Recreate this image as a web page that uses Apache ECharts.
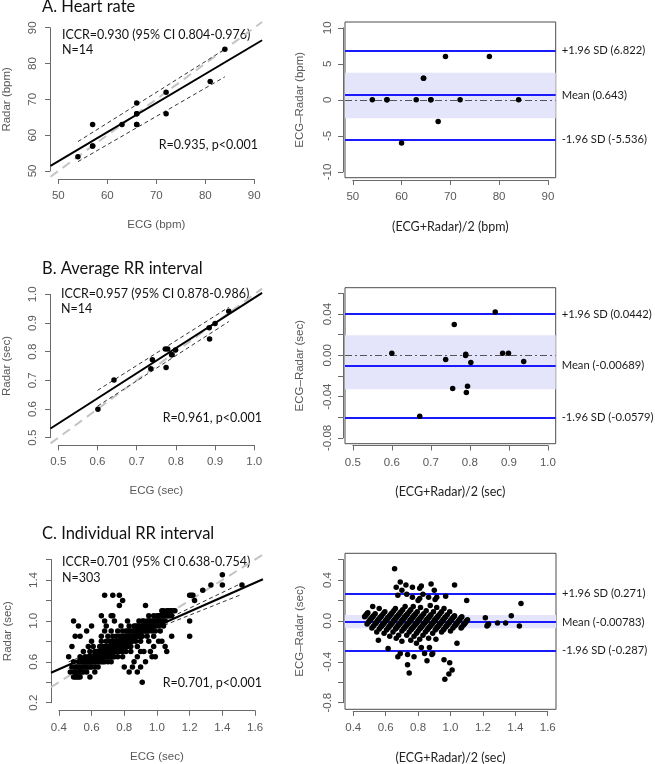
<!DOCTYPE html>
<html><head><meta charset="utf-8">
<script src="https://cdn.jsdelivr.net/npm/echarts@6/dist/echarts.min.js"></script>
<style>html,body{margin:0;padding:0;background:#fff}#c{width:655px;height:764px}</style>
</head><body><div id="c"></div>
<script>
// ---------------- DATA ----------------
const ecgA   = [54, 57, 57, 57, 63, 66, 66, 66, 66, 66, 72, 72, 81, 84];
const radarA = [54, 57, 57, 63, 63, 63, 63, 66, 66, 69, 72, 66, 75, 84];
const ecgB   = [0.601, 0.642, 0.736, 0.775, 0.740, 0.789, 0.790, 0.779, 0.773, 0.799, 0.886, 0.885, 0.900, 0.935];
const radarB = [0.599, 0.701, 0.740, 0.745, 0.772, 0.789, 0.789, 0.809, 0.809, 0.806, 0.844, 0.883, 0.898, 0.941];
const radarLevelsC = [0.40, 0.45, 0.50, 0.55, 0.60, 0.65, 0.70, 0.75, 0.80, 0.85, 0.90, 0.95, 1.00, 1.05, 1.10, 1.15, 1.20, 1.25, 1.30, 1.35, 1.45];
const ecgRowsC = [
  [0.91],
  [0.49, 0.50, 0.51, 0.52, 0.53, 0.59],
  [0.47, 0.49, 0.50, 0.51, 0.52, 0.53, 0.54, 0.55, 0.57, 0.62, 0.83, 0.88],
  [0.48, 0.50, 0.52, 0.53, 0.54, 0.55, 0.56, 0.57, 0.58, 0.59, 0.60, 0.62, 0.64, 0.80, 0.85, 0.90],
  [0.49, 0.52, 0.54, 0.55, 0.56, 0.57, 0.58, 0.59, 0.60, 0.605, 0.61, 0.62, 0.625, 0.63, 0.64, 0.65, 0.66, 0.67, 0.68, 0.70, 0.72, 0.86, 0.93],
  [0.46, 0.53, 0.56, 0.58, 0.59, 0.60, 0.61, 0.62, 0.63, 0.64, 0.65, 0.655, 0.66, 0.67, 0.68, 0.685, 0.69, 0.70, 0.71, 0.72, 0.73, 0.74, 0.76, 0.79, 0.88, 0.97, 0.99],
  [0.55, 0.59, 0.62, 0.63, 0.64, 0.65, 0.66, 0.67, 0.68, 0.69, 0.695, 0.70, 0.71, 0.715, 0.72, 0.73, 0.735, 0.74, 0.75, 0.76, 0.77, 0.79, 0.81, 0.84, 0.90, 0.92, 0.96, 1.06],
  [0.48, 0.58, 0.61, 0.65, 0.67, 0.68, 0.69, 0.70, 0.71, 0.72, 0.73, 0.74, 0.745, 0.75, 0.76, 0.765, 0.77, 0.78, 0.785, 0.79, 0.80, 0.81, 0.82, 0.84, 0.88, 0.98, 1.05],
  [0.60, 0.66, 0.69, 0.71, 0.72, 0.73, 0.74, 0.75, 0.76, 0.77, 0.775, 0.78, 0.79, 0.795, 0.80, 0.81, 0.815, 0.82, 0.83, 0.84, 0.85, 0.87, 0.90, 0.95, 1.01, 1.03],
  [0.50, 0.53, 0.66, 0.70, 0.73, 0.75, 0.77, 0.78, 0.79, 0.80, 0.81, 0.82, 0.83, 0.835, 0.84, 0.85, 0.855, 0.86, 0.865, 0.87, 0.88, 0.89, 0.90, 0.91, 0.94, 0.98, 1.09, 1.20],
  [0.57, 0.68, 0.72, 0.76, 0.79, 0.81, 0.82, 0.83, 0.84, 0.85, 0.86, 0.87, 0.875, 0.88, 0.89, 0.895, 0.90, 0.905, 0.91, 0.92, 0.93, 0.94, 0.95, 0.97, 0.99, 1.02],
  [0.52, 0.60, 0.69, 0.78, 0.83, 0.86, 0.87, 0.88, 0.89, 0.90, 0.91, 0.92, 0.925, 0.93, 0.94, 0.945, 0.95, 0.96, 0.97, 0.98, 0.99, 1.01, 1.04],
  [0.49, 0.68, 0.74, 0.82, 0.89, 0.91, 0.92, 0.94, 0.95, 0.96, 0.97, 0.98, 0.985, 0.99, 1.00, 1.005, 1.01, 1.02, 1.03, 1.04, 1.05, 1.20],
  [0.66, 0.72, 0.73, 0.95, 0.98, 1.00, 1.01, 1.02, 1.03, 1.04, 1.05, 1.06, 1.07, 1.08, 1.09],
  [1.03, 1.04, 1.06, 1.07, 1.08, 1.09, 1.10, 1.11],
  [0.77, 0.93],
  [0.79, 1.23],
  [0.68, 0.73, 0.77, 1.20, 1.21, 1.22],
  [1.28],
  [1.33, 1.40, 1.52],
  [1.40]
];

// fitted lines
const fitA  = [[48.4, 51.4], [91.6, 86.5]];
const ciUpA = [[54, 58.2], [84, 84.0]];
const ciLoA = [[54, 52.6], [84, 76.3]];
const fitB  = [[0.48, 0.532], [1.02, 1.005]];
const ciUpB = [[0.60, 0.665], [0.935, 0.955]];
const ciLoB = [[0.60, 0.610], [0.935, 0.905]];
const fitC  = [[0.352, 0.493], [1.648, 1.407]];
const ciUpC = [[0.46, 0.600], [0.80, 0.817], [1.52, 1.370]];
const ciLoC = [[0.46, 0.535], [0.80, 0.801], [1.52, 1.260]];

// Bland-Altman limits [+1.96SD, mean, -1.96SD] and shaded band [low, high]
const limitsA = [6.822, 0.643, -5.536];
const limitsB = [0.0442, -0.00689, -0.0579];
const limitsC = [0.271, -0.00783, -0.287];
const bandA = [-2.55, 3.77];
const bandB = [-0.0328, 0.0195];
const bandC = [-0.072, 0.058];

// texts
const panelTitles = ['A. Heart rate', 'B. Average RR interval', 'C. Individual RR interval'];
const statsA = ['ICCR=0.930 (95% CI 0.804-0.976)', 'N=14', 'R=0.935, p<0.001'];
const statsB = ['ICCR=0.957 (95% CI 0.878-0.986)', 'N=14', 'R=0.961, p<0.001'];
const statsC = ['ICCR=0.701 (95% CI 0.638-0.754)', 'N=303', 'R=0.701, p<0.001'];
const limitNames = ['+1.96 SD', 'Mean', '-1.96 SD'];
const xTitlesL = ['ECG (bpm)', 'ECG (sec)', 'ECG (sec)'];
const yTitlesL = ['Radar (bpm)', 'Radar (sec)', 'Radar (sec)'];
const xTitlesR = ['(ECG+Radar)/2 (bpm)', '(ECG+Radar)/2 (sec)', '(ECG+Radar)/2 (sec)'];
const yTitlesR = ['ECG\u2013Radar (bpm)', 'ECG\u2013Radar (sec)', 'ECG\u2013Radar (sec)'];

// tick labels that are printed
const xTicksA  = ['50', '60', '70', '80', '90'];
const yTicksAL = ['50', '60', '70', '80', '90'];
const yTicksAR = ['-10', '-5', '0', '5', '10'];
const xTicksB  = ['0.5', '0.6', '0.7', '0.8', '0.9', '1.0'];
const yTicksBL = ['0.5', '0.6', '0.7', '0.8', '0.9', '1.0'];
const yTicksBR = ['-0.08', '-0.04', '0.00', '0.04'];
const xTicksC  = ['0.4', '0.6', '0.8', '1.0', '1.2', '1.4', '1.6'];
const yTicksCL = ['0.2', '0.6', '1.0', '1.4'];
const yTicksCR = ['-0.8', '-0.4', '0.0', '0.4'];

// ---------------- LAYOUT ----------------
const GRAYTXT = '#595959', AXCOL = '#6a6a6a';
const TICKFONT = 'Liberation Sans';
const TXTFONT = 'Lato';
const layout = {
  AL: {L:50.5, R:262.1, T:22, B:176.7, ux:[48.4,91.6], uy:[48.4,91.6], tx:[50,90,10], ty:[50,90,10], yAx:50, xAx:179, box:false, xd:0, yd:0, xl:xTicksA, yl:yTicksAL, ym:11},
  AR: {L:345, R:555.7, T:22, B:177.7, ux:[48.4,91.6], uy:[-10.8,10.8], tx:[50,90,10], ty:[-10,10,5], yAx:343, xAx:180, box:true, xd:0, yd:0, xl:xTicksA, yl:yTicksAR, ym:9},
  BL: {L:50.5, R:262.1, T:288.6, B:443.4, ux:[0.48,1.02], uy:[0.48,1.02], tx:[0.5,1.0,0.1], ty:[0.5,1.0,0.1], yAx:50, xAx:445.3, box:false, xd:1, yd:1, xl:xTicksB, yl:yTicksBL, ym:11},
  BR: {L:345, R:555.7, T:287.7, B:443.7, ux:[0.48,1.02], uy:[-0.0856,0.0656], tx:[0.5,1.0,0.1], ty:[-0.08,0.06,0.02], yAx:343, xAx:445.5, box:true, xd:1, yd:2, xl:xTicksB, yl:yTicksBR, ym:9},
  CL: {L:51, R:262.9, T:553.8, B:708.4, ux:[0.352,1.648], uy:[0.144,1.656], tx:[0.4,1.6,0.2], ty:[0.2,1.6,0.2], yAx:51, xAx:710.7, box:false, xd:1, yd:1, xl:xTicksC, yl:yTicksCL, ym:11},
  CR: {L:345, R:556, T:553.3, B:709.3, ux:[0.349,1.651], uy:[-0.865,0.661], tx:[0.4,1.6,0.2], ty:[-0.8,0.6,0.2], yAx:343, xAx:711, box:true, xd:1, yd:1, xl:xTicksC, yl:yTicksCR, ym:9}
};

const grids = [], xAxes = [], yAxes = [], series = [];

function labelFmt(dec, shown) {
  return function (v) { const s = (Math.abs(v) < 1e-9 ? 0 : v).toFixed(dec); return shown.indexOf(s) >= 0 ? s : ''; };
}

function addPanel(p, xTitle, yTitle, xTitleDark) {
  const gi = grids.length;
  grids.push({left:p.L, top:p.T, width:p.R-p.L, height:p.B-p.T, show:p.box, borderColor:'#4d4d4d', borderWidth:1,
              backgroundColor:'transparent', containLabel:false, outerBoundsMode:'none'});
  xAxes.push({gridIndex:gi, type:'value', min:p.ux[0], max:p.ux[1], show:false});
  yAxes.push({gridIndex:gi, type:'value', min:p.uy[0], max:p.uy[1], show:false});
  const sx = (p.R-p.L)/(p.ux[1]-p.ux[0]), sy = (p.B-p.T)/(p.uy[1]-p.uy[0]);
  const aL = p.L + (p.tx[0]-p.ux[0])*sx, aR = p.L + (p.tx[1]-p.ux[0])*sx;
  const aT = p.T + (p.uy[1]-p.ty[1])*sy, aB = p.T + (p.uy[1]-p.ty[0])*sy;
  grids.push({left:aL, top:aT, width:aR-aL, height:aB-aT, show:false, containLabel:false, outerBoundsMode:'none'});
  const common = {
    type:'value', splitLine:{show:false}, nameLocation:'middle', nameMoveOverlap:false,
    axisLine:{show:true, onZero:false, lineStyle:{color:AXCOL, width:1}},
    axisTick:{show:true, inside:false, length:5, lineStyle:{color:AXCOL, width:1}},
  };
  xAxes.push(Object.assign({}, common, {gridIndex:gi+1, position:'bottom', min:p.tx[0], max:p.tx[1], interval:p.tx[2],
    offset:p.xAx-aB,
    axisLabel:{show:true, margin:11, color:GRAYTXT, fontFamily:TICKFONT, fontSize:11.5, formatter:labelFmt(p.xd, p.xl)},
    name:xTitle, nameGap:40,
    nameTextStyle: xTitleDark ? {color:'#222', fontFamily:TXTFONT, fontSize:12.5} : {color:GRAYTXT, fontFamily:TICKFONT, fontSize:11.5}
  }));
  yAxes.push(Object.assign({}, common, {gridIndex:gi+1, position:'left', min:p.ty[0], max:p.ty[1], interval:p.ty[2],
    offset:aL-p.yAx,
    axisLabel:{show:true, rotate:90, margin:p.ym, color:GRAYTXT, fontFamily:TICKFONT, fontSize:11.5, formatter:labelFmt(p.yd, p.yl)},
    name:yTitle, nameGap:37, nameRotate:90,
    nameTextStyle:{color:GRAYTXT, fontFamily:TICKFONT, fontSize:11.5}
  }));
  return gi;
}

function pairs(xs, ys) { return xs.map((x, i) => [x, ys[i]]); }
function baPoints(xs, ys) { return xs.map((x, i) => [+((x + ys[i]) / 2).toFixed(5), +(x - ys[i]).toFixed(5)]); }

function lineSeries(gi, data, color, width, type, z) {
  return {type:'line', xAxisIndex:gi, yAxisIndex:gi, data:data, showSymbol:false, symbol:'none', silent:true,
          clip:true, animation:false, z:z, lineStyle:{color:color, width:width, type:type}};
}

function scatterPanel(p, ecg, radar, fit, ciUp, ciLo, xTitle, yTitle, size) {
  const gi = addPanel(p, xTitle, yTitle, false);
  series.push(lineSeries(gi, [[p.ux[0], p.ux[0]], [p.ux[1], p.ux[1]]], '#c4c4c4', 2, [9, 6], 2));
  series.push(lineSeries(gi, ciUp, '#333', 1, [4, 3], 3));
  series.push(lineSeries(gi, ciLo, '#333', 1, [4, 3], 3));
  series.push(lineSeries(gi, fit, '#000', 2, 'solid', 4));
  series.push({type:'scatter', xAxisIndex:gi, yAxisIndex:gi, data:pairs(ecg, radar), symbolSize:size, silent:true,
               animation:false, z:5, itemStyle:{color:'#000', opacity:1}});
}

function baPanel(p, ecg, radar, limits, band, xTitle, yTitle, size) {
  const gi = addPanel(p, xTitle, yTitle, true);
  series.push({type:'line', xAxisIndex:gi, yAxisIndex:gi, data:[], silent:true, animation:false, z:1,
    markArea:{silent:true, itemStyle:{color:'#e4e4fb'}, data:[[{yAxis:band[0]}, {yAxis:band[1]}]]}});
  series.push({type:'line', xAxisIndex:gi, yAxisIndex:gi, data:[], silent:true, animation:false, z:2,
    markLine:{silent:true, symbol:'none', animation:false, label:{show:false},
      lineStyle:{color:'#555', width:1, type:[7, 3, 2, 3]}, data:[{yAxis:0}]}});
  series.push({type:'line', xAxisIndex:gi, yAxisIndex:gi, data:[], silent:true, animation:false, z:3,
    markLine:{silent:true, symbol:'none', animation:false,
      lineStyle:{color:'#1a1aff', width:2, type:'solid'},
      label:{show:true, position:'end', distance:6, color:'#1a1a1a', fontFamily:TXTFONT, fontSize:11.2,
             formatter: function (d) { return limitNames[d.dataIndex] + ' (' + limits[d.dataIndex] + ')'; }},
      data: limits.map(v => ({yAxis:v}))}});
  series.push({type:'scatter', xAxisIndex:gi, yAxisIndex:gi, data:baPoints(ecg, radar), symbolSize:size, silent:true,
               animation:false, z:5, itemStyle:{color:'#000', opacity:1}});
}

const ecgC = [], radarC = [];
ecgRowsC.forEach((row, i) => row.forEach(e => { ecgC.push(e); radarC.push(radarLevelsC[i]); }));

scatterPanel(layout.AL, ecgA, radarA, fitA, ciUpA, ciLoA, xTitlesL[0], yTitlesL[0], 5.5);
baPanel(layout.AR, ecgA, radarA, limitsA, bandA, xTitlesR[0], yTitlesR[0], 5.5);
scatterPanel(layout.BL, ecgB, radarB, fitB, ciUpB, ciLoB, xTitlesL[1], yTitlesL[1], 5.5);
baPanel(layout.BR, ecgB, radarB, limitsB, bandB, xTitlesR[1], yTitlesR[1], 5.5);
scatterPanel(layout.CL, ecgC, radarC, fitC, ciUpC, ciLoC, xTitlesL[2], yTitlesL[2], 5.5);
baPanel(layout.CR, ecgC, radarC, limitsC, bandC, xTitlesR[2], yTitlesR[2], 5.5);

const textPos = [
  {tx:42, ty:7,     x:62, y1:34.5, y2:49.5,  rx:258, ry:145},
  {tx:42, ty:269,   x:61, y1:293.5, y2:309,  rx:262, ry:418},
  {tx:42, ty:534,   x:62, y1:562,  y2:577.5, rx:262, ry:682.5}
];
const allStats = [statsA, statsB, statsC];
const graphic = [];
function txt(x, y, s, font, align, color) {
  graphic.push({type:'text', x:x, y:y, silent:true,
    style:{text:s, font:font, fill:color || '#111', align:align, verticalAlign:'middle', textAlign:align, textVerticalAlign:'middle'}});
}
textPos.forEach((t, i) => {
  txt(t.tx, t.ty, panelTitles[i], '16.5px ' + TXTFONT, 'left', '#111');
  txt(t.x, t.y1, allStats[i][0], '12.5px ' + TXTFONT, 'left');
  txt(t.x, t.y2, allStats[i][1], '12.5px ' + TXTFONT, 'left');
  txt(t.rx, t.ry, allStats[i][2], '12.5px ' + TXTFONT, 'right');
});

const chart = echarts.init(document.getElementById('c'), null, {renderer:'canvas', width:655, height:764});
chart.setOption({
  animation:false,
  backgroundColor:'#ffffff',
  grid:grids, xAxis:xAxes, yAxis:yAxes, series:series, graphic:graphic
});
</script>
</body></html>
